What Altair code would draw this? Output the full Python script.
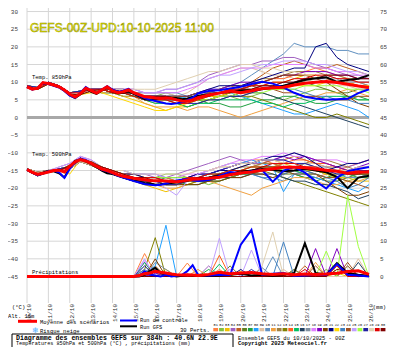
import altair as alt
import pandas as pd

# ---------------- time axes ----------------
H12 = list(range(0, 385, 12))                                   # perturbations
HB = list(range(0, 192, 6)) + list(range(192, 385, 12))          # bold runs
date_hours = [0, 24, 48, 72, 96, 120, 144, 168, 192, 216, 240, 264, 288, 312, 336, 360, 384]
date_labels = ["10/10", "11/10", "12/10", "13/10", "14/10", "15/10", "16/10", "17/10", "18/10",
               "19/10", "20/10", "21/10", "22/10", "23/10", "24/10", "25/10", "26/10"]
left_ticks = [30, 25, 20, 15, 10, 5, 0, -5, -10, -15, -20, -25, -30, -35, -40, -45]
right_ticks = [75, 70, 65, 60, 55, 50, 45, 40, 35, 30, 25, 20, 15, 10, 5, 0]

members = ["01", "02", "03", "04", "05", "06", "07", "08", "09", "10", "11", "12", "13", "14", "15",
           "16", "17", "18", "19", "20", "21", "22", "23", "24", "25", "26", "27", "28", "29", "30"]
member_colors = ["#ff8040", "#80c040", "#f0c000", "#a060c0", "#c06020", "#608020", "#20a040", "#20a0ff",
                 "#e0c0a0", "#6090c0", "#f0a040", "#a08040", "#808000", "#ff6020", "#00c060", "#204060",
                 "#8090a0", "#e080ff", "#8000c0", "#804000", "#000080", "#ffd700", "#4080c0", "#a05020",
                 "#c0a0ff", "#a0ff40", "#2020a0", "#e0d0b0", "#e00000", "#800000"]

# ---------------- bold runs (HB grid) ----------------
mean_t850 = [8.7, 8.0, 8.3, 9.9, 9.6, 9.2, 8.7, 7.8, 6.6, 5.8, 6.8, 8.3, 7.6, 6.9, 7.8, 8.7, 7.5, 7.0, 7.3, 7.8,
             7.0, 6.5, 5.9, 5.8, 5.5, 5.4, 5.6, 5.4, 5.0, 4.7, 4.6, 5.0,
             5.6, 6.4, 6.9, 7.5, 7.0, 7.6, 8.2, 8.4, 8.6, 9.2, 9.7, 10.0, 10.2, 9.9, 9.4, 8.9, 8.5]
ctrl_t850 = [8.7, 7.9, 8.4, 9.8, 9.5, 9.0, 8.5, 7.5, 6.2, 5.6, 7.0, 8.6, 7.6, 7.0, 7.9, 8.9, 7.9, 7.3, 7.6, 8.1,
             7.0, 6.2, 5.5, 5.0, 4.7, 4.3, 4.0, 3.8, 4.0, 4.4, 4.9, 5.6,
             6.8, 7.5, 7.7, 8.2, 8.7, 9.5, 10.1, 9.6, 8.5, 7.0, 5.9, 5.4, 5.0, 5.2, 5.3, 6.9, 8.0]
gfs_t850 = [8.7, 8.0, 8.4, 9.8, 9.5, 9.1, 8.6, 7.6, 6.3, 5.5, 6.6, 8.2, 7.3, 6.7, 7.6, 8.6, 7.4, 6.8, 7.0, 7.4,
            6.6, 6.0, 5.2, 5.0, 5.2, 5.5, 5.8, 5.6, 5.5, 5.2, 5.4, 5.8,
            6.2, 6.5, 7.0, 7.2, 7.6, 7.8, 8.0, 8.6, 9.0, 9.8, 10.6, 11.1, 11.4, 10.1, 10.6, 11.0, 12.0]
mean_t500 = [-14.7, -15.5, -16.1, -15.8, -15.4, -15.0, -14.9, -15.4, -13.8, -12.5, -11.9, -12.3, -13.0, -13.8,
             -14.6, -15.0, -15.6, -16.2, -16.6, -16.9, -17.2, -17.4, -17.6, -17.8, -17.9, -17.9, -18.0, -18.1,
             -18.2, -18.0, -17.7, -17.5,
             -17.4, -17.2, -16.9, -16.2, -15.7, -15.4, -14.9, -14.5, -14.1, -14.1, -14.2, -14.6, -14.9, -15.2,
             -15.8, -15.4, -15.4]
ctrl_t500 = [-14.7, -15.6, -16.3, -15.8, -15.2, -15.0, -15.5, -17.1, -14.5, -12.6, -11.6, -12.0, -12.9, -13.8,
             -14.8, -15.2, -15.8, -16.5, -17.0, -17.5, -18.0, -18.4, -18.8, -19.0, -19.2, -19.0, -18.7, -18.2,
             -17.8, -17.6, -17.4, -17.8,
             -18.0, -17.7, -16.5, -15.4, -15.8, -15.2, -14.9, -18.2, -15.0, -14.0, -15.6, -18.0, -20.1, -17.0,
             -15.2, -14.6, -14.0]
gfs_t500 = [-14.7, -15.6, -16.2, -15.6, -15.1, -15.2, -15.8, -17.0, -14.2, -12.3, -11.8, -12.4, -13.2, -14.0,
            -15.0, -15.8, -16.0, -16.5, -17.0, -17.4, -17.8, -18.2, -18.5, -18.7, -19.0, -18.9, -18.7, -18.5,
            -18.4, -18.1, -17.8, -17.5,
            -17.4, -17.0, -16.5, -16.0, -15.5, -15.0, -14.6, -14.8, -15.2, -15.0, -14.5, -15.0, -15.5, -16.8,
            -20.0, -17.0, -16.5]
mean_rr = [0, 0, 0, 0, 0, 0, 0, 0, 0, 0, 0, 0, 0, 0, 0, 0, 0, 0, 0, 0, 0,
           0.3, 0.8, 1.0, 1.5, 1.2, 1.0, 0.7, 0.5, 0.4, 0.5, 0.4,
           0.3, 0.6, 1.2, 0.8, 1.0, 1.1, 0.8, 0.6, 0.8, 0.5, 0.7, 0.6, 0.7, 0.9, 1.4, 1.6, 0.6]
ctrl_rr = [0, 0, 0, 0, 0, 0, 0, 0, 0, 0, 0, 0, 0, 0, 0, 0, 0, 0, 0, 0, 0,
           0.2, 1.5, 0.5, 0.3, 0, 0.5, 0, 0.2, 0.5, 1.5, 3.2,
           0.5, 0.3, 0.5, 0.4, 9.0, 13.2, 0.5, 0.8, 1.0, 0.2, 0.3, 0.5, 0.4, 3.5, 0.5, 0.3, 0]
gfs_rr = [0, 0, 0, 0, 0, 0, 0, 0, 0, 0, 0, 0, 0, 0, 0, 0, 0, 0, 0, 0, 0,
          0, 0.5, 1.5, 2.5, 1.0, 0.5, 0.3, 0, 0.2, 0.5, 0.3,
          0.5, 0.2, 0.3, 0.5, 0.8, 0.3, 0.5, 0.2, 0.4, 1.0, 9.4, 1.0, 0.5, 3.8, 1.0, 0.5, 0.2]

# ---------------- perturbations (H12 grid) ----------------
t850 = [
    [9, 8, 10, 9, 7, 7, 8, 8, 7, 7, 6, 5, 4, 5, 5, 5, 6, 7, 8, 9, 8, 9, 10, 11, 12, 12, 13, 14, 13, 12, 11, 10, 9],
    [8.5, 8, 9.5, 8.5, 6.5, 6.5, 7.5, 8, 8, 7, 7, 6, 6, 7, 6, 5, 5, 5, 6, 6, 5, 6, 7, 6, 5, 6, 7, 8, 8, 7, 6, 5, 5],
    [9, 8.5, 10, 9, 7, 7.5, 8, 7, 7, 6, 5, 4, 3, 2, 3, 3, 4, 5, 6, 7, 8, 8, 9, 10, 10, 11, 12, 12, 11, 10, 10, 9, 8],
    [8.5, 8.5, 9.5, 9, 6.5, 7, 7.5, 8, 8, 8, 8, 7, 7, 8, 8, 9, 10, 12, 13, 14, 15, 15, 16, 16, 17, 17, 16, 15, 14, 13, 12, 12, 11],
    [9, 8, 10, 9, 7, 7, 8, 8, 7, 7, 7, 6, 5, 5, 4, 4, 5, 5, 6, 7, 8, 10, 12, 14, 15, 16, 15, 14, 14, 15, 14, 13, 12],
    [8.5, 8, 9.5, 8.5, 6.5, 6.5, 7.5, 8, 8, 7, 6, 5, 5, 5, 4, 3, 4, 5, 5, 6, 6, 7, 8, 8, 9, 10, 10, 9, 8, 7, 7, 8, 8],
    [9, 8.5, 10, 9, 7, 7.5, 8, 7, 7, 6, 6, 5, 5, 6, 6, 5, 5, 4, 4, 3, 3, 4, 5, 5, 6, 6, 5, 4, 4, 5, 6, 6, 5],
    [8.5, 8.5, 9.5, 9, 6.5, 7, 7.5, 7, 7, 7, 6, 5, 5, 5, 5, 6, 6, 7, 7, 7, 6, 5, 4, 3, 2, 1, 1, 2, 3, 4, 3, 2, 0],
    [9, 8, 10, 9, 7, 7, 8, 8, 8, 8, 7, 7, 7, 7, 6, 7, 9, 11, 12, 13, 14, 14, 13, 12, 12, 11, 11, 10, 10, 9, 9, 8, 8],
    [8.5, 8, 9.5, 8.5, 6.5, 6.5, 7.5, 8, 8, 7, 7, 7, 7, 7, 7, 6, 7, 8, 8, 9, 10, 12, 14, 16, 18, 21, 20, 20, 20, 19, 19, 18, 18],
    [9, 8.5, 10, 9, 7, 7.5, 8, 7, 7, 6, 6, 4, 3, 3, 3, 2, 3, 3, 2, 1, 0, 1, 2, 3, 4, 5, 6, 6, 7, 7, 8, 7, 6],
    [8.5, 8.5, 9.5, 9, 6.5, 7, 7.5, 8, 8, 8, 7, 6, 6, 6, 5, 5, 6, 7, 8, 9, 9, 10, 11, 11, 12, 13, 13, 13, 12, 12, 11, 11, 11],
    [9, 8, 10, 9, 7, 7, 8, 8, 7, 7, 6, 6, 5, 5, 5, 4, 5, 5, 6, 6, 6, 6, 5, 4, 3, 2, 1, 0, 0, 1, 0, -1, -2],
    [8.5, 8, 9.5, 8.5, 6.5, 6.5, 7.5, 8, 8, 7, 7, 6, 6, 6, 5, 5, 6, 7, 7, 8, 9, 9, 10, 11, 11, 12, 12, 12, 11, 10, 10, 9, 9],
    [9, 8.5, 10, 9, 7, 7.5, 8, 8, 7, 7, 6, 5, 4, 4, 4, 3, 4, 4, 5, 5, 5, 5, 4, 4, 3, 4, 4, 5, 6, 6, 6, 5, 5],
    [8.5, 8.5, 9.5, 9, 6.5, 7, 7.5, 8, 7, 7, 7, 6, 6, 6, 5, 5, 5, 6, 6, 6, 7, 7, 7, 6, 5, 4, 3, 2, 1, 0, -1, -2, -3],
    [9, 8, 10, 9, 7, 7, 8, 8, 8, 7, 7, 6, 6, 5, 5, 5, 6, 6, 7, 8, 8, 9, 9, 9, 10, 10, 11, 11, 12, 11, 10, 10, 9],
    [8.5, 8, 9.5, 8.5, 6.5, 6.5, 7.5, 8, 8, 8, 8, 7, 7, 7, 7, 8, 9, 11, 12, 13, 14, 14, 14, 15, 15, 15, 15, 14, 14, 13, 13, 12, 12],
    [9, 8.5, 10, 9, 7, 7.5, 8, 8, 8, 7, 7, 6, 6, 6, 6, 6, 7, 8, 8, 9, 10, 10, 10, 11, 12, 12, 13, 13, 13, 12, 12, 11, 11],
    [8.5, 8.5, 9.5, 9, 6.5, 7, 7.5, 8, 7, 7, 7, 6, 6, 6, 5, 5, 6, 6, 6, 7, 8, 9, 10, 11, 12, 12, 12, 11, 10, 8, 6, 4, 3],
    [9, 8, 10, 9, 7, 7, 8, 8, 8, 8, 7, 6, 6, 6, 6, 6, 7, 8, 9, 9, 9, 10, 11, 12, 13, 14, 14, 20, 21, 17, 15, 14, 13],
    [8.5, 8, 9.5, 8.5, 6.5, 6.5, 7, 7, 6, 5, 4, 3, 2, 2, 3, 4, 5, 6, 6, 7, 7, 8, 8, 8, 8, 9, 9, 9, 10, 10, 10, 9, 9],
    [9, 8.5, 10, 9, 7, 7.5, 8, 8, 8, 7, 7, 6, 6, 6, 6, 5, 6, 7, 7, 8, 8, 8, 9, 9, 8, 8, 7, 6, 6, 5, 5, 4, 4],
    [8.5, 8.5, 9.5, 9, 6.5, 7, 7.5, 8, 8, 7, 7, 6, 6, 6, 6, 6, 7, 7, 8, 8, 9, 9, 8, 8, 7, 7, 6, 6, 5, 5, 5, 6, 6],
    [9, 8, 10, 9, 7, 7, 8, 8, 8, 8, 8, 7, 7, 8, 8, 9, 10, 11, 12, 12, 13, 14, 15, 15, 16, 16, 16, 15, 15, 14, 13, 13, 12],
    [8.5, 8, 9.5, 8.5, 6.5, 6.5, 7.5, 8, 8, 7, 7, 6, 5, 5, 5, 4, 5, 5, 6, 6, 7, 7, 7, 8, 8, 8, 9, 9, 9, 9, 8, 8, 7],
    [9, 8.5, 10, 9, 7, 7.5, 8, 8, 8, 7, 7, 6, 6, 5, 5, 4, 4, 5, 5, 6, 6, 7, 8, 9, 9, 10, 11, 11, 11, 11, 10, 10, 10],
    [8.5, 8.5, 9.5, 9, 6.5, 7, 7.5, 8, 8, 8, 8, 8, 8, 9, 10, 11, 12, 13, 13, 14, 15, 15, 14, 14, 13, 13, 12, 12, 11, 11, 10, 10, 10],
    [9, 8, 10, 9, 7, 7, 8, 8, 7, 7, 6, 5, 5, 5, 4, 4, 5, 6, 7, 8, 8, 9, 9, 10, 10, 11, 11, 12, 12, 11, 11, 10, 10],
    [8.5, 8, 9.5, 8.5, 6.5, 6.5, 7.5, 8, 8, 7, 7, 6, 6, 6, 5, 5, 6, 6, 7, 7, 8, 8, 9, 9, 10, 10, 11, 11, 12, 12, 12, 11, 11],
]
t500 = [
    [-15, -16, -15, -15, -14, -12, -13, -15, -16, -17, -18, -18, -19, -19, -18, -17, -16, -15, -14, -13, -13, -12, -12, -13, -14, -15, -16, -17, -16, -15, -14, -13, -12],
    [-14.5, -16, -15.5, -15, -13.5, -12, -12.5, -14, -15, -16, -16, -17, -17, -16, -16, -17, -18, -19, -18, -17, -16, -16, -15, -14, -13, -13, -14, -15, -16, -17, -18, -17, -16],
    [-15, -16.5, -15.5, -14.5, -14, -11.5, -13, -15, -16, -17, -18, -19, -20, -21, -20, -19, -18, -17, -16, -15, -14, -13, -12, -12, -13, -14, -14, -15, -16, -17, -17, -18, -18],
    [-14.5, -15.5, -15, -15, -14.5, -12.5, -13.5, -14, -15, -16, -16, -16, -17, -17, -16, -15, -14, -13, -12, -11, -12, -13, -13, -12, -11, -10, -11, -12, -13, -14, -14, -13, -12],
    [-15, -16, -15, -15, -14, -12, -13, -15, -16, -17, -17, -18, -18, -19, -19, -18, -18, -17, -16, -16, -15, -14, -13, -12, -12, -11, -12, -13, -14, -14, -15, -16, -15],
    [-14.5, -16, -15.5, -15, -13.5, -12, -12.5, -14, -15, -16, -17, -17, -17, -18, -18, -18, -17, -17, -16, -15, -15, -14, -14, -15, -16, -16, -17, -17, -18, -18, -17, -16, -16],
    [-15, -16.5, -15.5, -14.5, -14, -11.5, -13, -14, -15, -16, -17, -17, -18, -17, -18, -19, -19, -18, -18, -17, -16, -15, -15, -14, -15, -16, -17, -18, -17, -16, -16, -17, -17],
    [-14.5, -15.5, -15, -15, -14.5, -12.5, -13.5, -14, -15, -15, -16, -16, -16, -17, -17, -17, -17, -16, -15, -14, -13, -12, -13, -14, -21, -16, -16, -17, -18, -19, -20, -21, -19],
    [-15, -16, -15, -14, -13, -11, -12, -14, -15, -16, -16, -17, -17, -17, -17, -16, -15, -15, -14, -14, -13, -13, -14, -15, -15, -14, -13, -13, -14, -15, -15, -14, -14],
    [-14.5, -16, -15.5, -15, -13.5, -12, -12.5, -15, -16, -17, -18, -18, -19, -19, -19, -18, -18, -18, -17, -17, -16, -16, -17, -17, -18, -16, -15, -15, -16, -16, -17, -17, -16],
    [-15, -16.5, -15.5, -14.5, -14, -11.5, -13, -15, -16, -17, -18, -19, -19, -20, -20, -19, -18, -18, -19, -20, -21, -22, -20, -19, -18, -17, -17, -18, -19, -19, -18, -18, -17],
    [-14.5, -15.5, -15, -15, -14.5, -12.5, -13.5, -14, -15, -16, -17, -17, -18, -18, -18, -17, -17, -16, -16, -15, -14, -14, -13, -13, -14, -14, -13, -12, -12, -13, -14, -15, -15],
    [-15, -16, -15, -15, -14, -12, -13, -15, -16, -17, -18, -18, -18, -19, -19, -19, -18, -18, -17, -17, -16, -15, -15, -16, -17, -18, -19, -20, -21, -22, -23, -24, -25],
    [-14.5, -16, -15.5, -15, -13.5, -12, -12.5, -14, -15, -16, -16, -17, -17, -17, -18, -18, -17, -17, -17, -16, -16, -15, -14, -14, -13, -12, -12, -13, -13, -14, -15, -15, -15],
    [-15, -16.5, -15.5, -14.5, -14, -11.5, -13, -15, -16, -17, -17, -18, -18, -18, -18, -18, -18, -17, -17, -16, -16, -16, -15, -15, -15, -15, -16, -16, -17, -17, -16, -16, -16],
    [-14.5, -15.5, -15, -15, -14.5, -12.5, -13.5, -15, -16, -17, -18, -19, -19, -19, -19, -18, -18, -18, -17, -17, -17, -16, -16, -16, -17, -18, -18, -19, -19, -20, -21, -23, -22],
    [-15, -16, -15, -15, -14, -12, -13, -14, -15, -16, -17, -17, -18, -18, -18, -17, -17, -17, -16, -16, -15, -15, -14, -14, -14, -14, -13, -14, -14, -15, -16, -16, -15],
    [-14.5, -16, -15.5, -14, -13, -11, -12, -14, -15, -15, -16, -16, -16, -17, -17, -16, -16, -15, -14, -13, -12, -12, -11, -11, -10, -11, -11, -12, -12, -12, -13, -13, -12],
    [-15, -16.5, -15.5, -14.5, -14, -11.5, -13, -14, -15, -16, -17, -17, -17, -18, -18, -17, -16, -16, -15, -14, -13, -13, -12, -12, -11, -12, -11, -12, -13, -14, -15, -14, -13],
    [-14.5, -15.5, -15, -15, -14.5, -12.5, -13.5, -15, -16, -17, -18, -18, -19, -19, -19, -19, -19, -18, -18, -17, -17, -16, -16, -17, -16, -15, -15, -16, -18, -20, -22, -22, -21],
    [-15, -16, -15, -15, -14, -12, -13, -14, -15, -16, -16, -17, -17, -17, -17, -17, -16, -16, -15, -15, -14, -13, -12, -11, -11, -10, -11, -13, -15, -14, -13, -13, -12],
    [-14.5, -16, -15.5, -15, -16, -12, -12.5, -14, -15, -16, -17, -17, -18, -18, -19, -18, -18, -17, -17, -16, -16, -15, -15, -14, -14, -14, -15, -15, -16, -16, -16, -15, -15],
    [-15, -16.5, -15.5, -14.5, -14, -11.5, -13, -14, -15, -16, -17, -18, -18, -18, -18, -17, -17, -16, -16, -15, -15, -16, -17, -18, -16, -15, -15, -16, -17, -18, -20, -19, -17],
    [-14.5, -15.5, -15, -15, -14.5, -12.5, -13.5, -15, -16, -17, -18, -18, -19, -19, -19, -18, -18, -17, -17, -16, -16, -15, -15, -15, -15, -16, -16, -16, -17, -17, -18, -19, -20],
    [-15, -16, -15, -14, -13, -11, -12, -14, -15, -16, -17, -17, -18, -20, -22, -18, -16, -15, -14, -13, -13, -13, -12, -12, -12, -13, -14, -14, -15, -16, -16, -15, -15],
    [-14.5, -16, -15.5, -15, -13.5, -12, -12.5, -14, -15, -16, -17, -17, -17, -17, -17, -17, -17, -16, -16, -15, -15, -14, -14, -14, -15, -15, -14, -14, -15, -15, -16, -16, -16],
    [-15, -16.5, -15.5, -14.5, -14, -11.5, -13, -15, -16, -17, -18, -18, -18, -19, -19, -18, -17, -16, -15, -14, -13, -13, -12, -12, -12, -13, -13, -14, -15, -16, -16, -15, -15],
    [-14.5, -15.5, -15, -15, -14.5, -12.5, -13.5, -14, -15, -15, -16, -16, -16, -16, -16, -16, -15, -15, -14, -14, -13, -13, -12, -12, -13, -13, -14, -14, -15, -15, -15, -14, -14],
    [-15, -16, -15, -15, -14, -12, -13, -14, -15, -16, -17, -17, -17, -18, -18, -17, -17, -16, -16, -15, -15, -14, -14, -13, -13, -13, -14, -14, -15, -15, -16, -16, -15],
    [-14.5, -16, -15.5, -15, -13.5, -12, -12.5, -14, -15, -16, -17, -17, -18, -18, -18, -18, -17, -17, -16, -16, -15, -15, -14, -14, -14, -14, -14, -15, -15, -15, -16, -16, -16],
]
rr = [
    [0, 0, 0, 0, 0, 0, 0, 0, 0, 0, 0, 6.5, 1, 0, 0, 3.8, 0, 0, 2, 0, 0, 0, 0, 0, 0, 0, 0.5, 0, 0, 0, 0, 0, 0],
    [0, 0, 0, 0, 0, 0, 0, 0, 0, 0, 0, 1, 0, 0, 0, 0, 0, 0, 0, 0, 0, 0, 0, 0, 0, 0, 0, 0, 2, 0, 0, 0, 0],
    [0, 0, 0, 0, 0, 0, 0, 0, 0, 0, 0, 0, 0, 2, 0, 0, 0, 0, 0, 0, 0, 0, 0, 0, 0, 0, 0, 0, 0, 1, 0, 0, 0],
    [0, 0, 0, 0, 0, 0, 0, 0, 0, 0, 0, 4, 0, 0, 0, 0, 0, 3, 0, 0, 0, 0, 0, 0, 0, 0, 0, 0, 0, 0, 0, 0, 0],
    [0, 0, 0, 0, 0, 0, 0, 0, 0, 0, 0, 0, 3, 0, 0, 0, 0, 0, 0, 0, 0, 0, 0, 0, 0, 0, 3, 0, 0, 0, 0, 0, 0],
    [0, 0, 0, 0, 0, 0, 0, 0, 0, 0, 0, 0.5, 0, 0, 0, 0, 0, 0, 0, 3, 0, 0, 0, 0, 0, 0, 0, 0, 0, 0, 0, 0, 0],
    [0, 0, 0, 0, 0, 0, 0, 0, 0, 0, 0, 0, 0, 0, 0, 0, 0, 2, 0, 0, 0, 0, 0, 0, 0, 2, 0, 0, 0, 0, 0, 0, 0],
    [0, 0, 0, 0, 0, 0, 0, 0, 0, 0, 0, 1, 3, 14.5, 0, 0, 0, 0, 0, 0, 0, 0, 0, 0, 0, 0, 0, 0, 0, 0, 0, 0, 0],
    [0, 0, 0, 0, 0, 0, 0, 0, 0, 0, 0, 0, 0, 0, 0, 0, 0, 0, 0, 0, 0, 0, 0, 0, 2, 0, 0, 0, 0, 0, 0, 5, 0],
    [0, 0, 0, 0, 0, 0, 0, 0, 0, 0, 0, 0, 1, 0, 0, 0, 0, 0, 0, 0, 0, 0, 0, 5.6, 0, 0, 0, 0, 0, 0, 0, 0, 0],
    [0, 0, 0, 0, 0, 0, 0, 0, 0, 0, 0, 0, 0, 0, 0, 0, 2, 0, 0, 0, 0, 0, 0, 0, 0, 0, 0, 4, 0, 0, 0, 0, 0],
    [0, 0, 0, 0, 0, 0, 0, 0, 0, 0, 0, 0, 0, 1, 0, 0, 0, 0, 0, 0, 0, 0, 0, 0, 0, 2, 0, 0, 0, 0, 0, 0, 0],
    [0, 0, 0, 0, 0, 0, 0, 0, 0, 0, 0, 2, 11, 0, 0, 0, 0, 0, 0, 0, 0, 0, 0, 0, 0, 0, 0, 0, 0, 0, 0, 0, 0],
    [0, 0, 0, 0, 0, 0, 0, 0, 0, 0, 0, 1, 0, 0, 0, 0, 0, 0, 6, 0, 0, 0, 0, 0, 0, 0, 0, 0, 0, 0, 0, 0, 0],
    [0, 0, 0, 0, 0, 0, 0, 0, 0, 0, 0, 4, 0, 0, 0, 0, 0, 0, 3.5, 0, 0, 0, 0, 0, 0, 0, 0, 0, 0, 0, 0, 0, 0],
    [0, 0, 0, 0, 0, 0, 0, 0, 0, 0, 0, 0, 2, 0, 0, 0, 0, 0, 0, 0, 0, 0, 0, 0, 0, 0, 0, 0, 0, 0, 0, 4, 0],
    [0, 0, 0, 0, 0, 0, 0, 0, 0, 0, 0, 0, 4, 2, 0, 0, 0, 0, 0, 0, 0, 0, 2.5, 0, 0, 0, 0, 0, 0, 0, 0, 0, 0],
    [0, 0, 0, 0, 0, 0, 0, 0, 0, 0, 0, 4.5, 0, 0, 0, 0, 0, 0, 0, 2, 0, 0, 0, 0, 0, 0, 0, 0, 0, 0, 0, 0, 0],
    [0, 0, 0, 0, 0, 0, 0, 0, 0, 0, 0, 0, 1, 0, 0, 0, 0, 0, 0, 0, 0, 0, 0, 0, 0, 0, 0, 7.9, 0, 7.9, 0, 0, 0],
    [0, 0, 0, 0, 0, 0, 0, 0, 0, 0, 0, 0, 5, 0, 0, 0, 0, 0, 0, 0, 0, 0, 0, 0, 0, 0, 0, 0, 0, 0, 3, 0, 0],
    [0, 0, 0, 0, 0, 0, 0, 0, 0, 0, 0, 3, 0, 0, 0, 0, 0, 0, 0, 0, 2, 0, 0, 0, 0, 0, 0, 0, 0, 0, 0, 0, 0],
    [0, 0, 0, 0, 0, 0, 0, 0, 0, 0, 0, 0, 0, 0.5, 0, 0, 0, 0, 0, 0, 1.5, 0, 0, 0, 0, 0, 0, 0, 0, 0, 0, 0, 0],
    [0, 0, 0, 0, 0, 0, 0, 0, 0, 0, 0, 2, 0, 0, 0, 0, 0, 0, 0, 0, 0, 0, 0, 0, 9.8, 0, 0, 0, 0, 0, 0, 0, 0],
    [0, 0, 0, 0, 0, 0, 0, 0, 0, 0, 0, 0, 0, 0, 0, 0, 0, 0, 0, 0, 0, 0, 0, 0, 0, 0, 0, 3, 0, 0, 4, 0, 0],
    [0, 0, 0, 0, 0, 0, 0, 0, 0, 0, 0, 5, 0, 0, 0, 0, 0, 0, 10.8, 0, 0, 7.5, 0, 0, 0, 0, 0, 0, 0, 0, 0, 0, 0],
    [0, 0, 0, 0, 0, 0, 0, 0, 0, 0, 0, 0, 0, 0, 0, 0, 0, 0, 0, 0, 0, 0, 0, 0, 0, 0, 0, 0, 7.2, 0, 23, 8.5, 0],
    [0, 0, 0, 0, 0, 0, 0, 0, 0, 0, 0, 0, 0, 0, 0, 0, 0, 0, 0, 0, 0, 2, 0, 0, 1, 0, 0, 0, 0, 0, 0, 0, 0],
    [0, 0, 0, 0, 0, 0, 0, 0, 0, 0, 0, 0, 0, 0, 0, 0, 0, 0, 0, 0, 0, 0, 3, 12.6, 0, 0, 0, 0, 0, 0, 0, 0, 0],
    [0, 0, 0, 0, 0, 0, 0, 0, 0, 0, 0, 0, 0, 0, 0, 0, 0, 0, 0, 0, 0, 0, 0, 0, 0, 0, 2, 0, 0, 3, 0, 0, 0],
    [0, 0, 0, 0, 0, 0, 0, 0, 0, 0, 0, 0, 0, 0, 0, 0, 0, 0, 0, 0, 0, 0, 0, 0, 0, 0, 0, 0, 0, 2, 1.5, 0, 0],
]

# ---------------- build tables ----------------
rows = []
for i, m in enumerate(members):
    for var, arr in (("850", t850[i]), ("500", t500[i]), ("rr", rr[i])):
        assert len(arr) == len(H12), (m, var, len(arr))
        for h, v in zip(H12, arr):
            rows.append({"member": m, "key": m + var, "var": var, "h": h, "v": v})
pert_df = pd.DataFrame(rows)


def bold_df(a850, a500, arr):
    out = []
    for var, arr_ in (("850", a850), ("500", a500), ("rr", arr)):
        assert len(arr_) == len(HB), (var, len(arr_))
        for h, v in zip(HB, arr_):
            out.append({"var": var, "h": h, "v": v})
    return pd.DataFrame(out)


ycalc = "datum.var == 'rr' ? datum.v - 45 : datum.v"

W, H = 342, 295
xs = alt.Scale(domain=[0, 384], nice=False, zero=False)
ys = alt.Scale(domain=[-52.5, 31], nice=False, zero=False)
X = alt.X("h:Q", scale=xs, axis=None)
Y = alt.Y("y:Q", scale=ys, axis=None)
FONT = "Liberation Mono"

vgrid = alt.Chart(pd.DataFrame({"h": date_hours})).mark_rule(color="#d6d6d6", strokeWidth=1).encode(
    x=X, y=alt.value(0), y2=alt.value(H))
hgrid = alt.Chart(pd.DataFrame({"y": left_ticks})).mark_rule(color="#d6d6d6", strokeWidth=1).encode(
    y=Y, x=alt.value(0), x2=alt.value(W))
zline = alt.Chart(pd.DataFrame({"y": [0]})).mark_rule(color="#a8a8a8", strokeWidth=3).encode(
    y=Y, x=alt.value(0), x2=alt.value(W))

color_scale = alt.Scale(domain=members, range=member_colors)
perts = alt.Chart(pert_df).transform_calculate(y=ycalc).mark_line(strokeWidth=1).encode(
    x=X, y=Y, detail="key:N", color=alt.Color("member:N", scale=color_scale, legend=None))


def bold(df, color, width):
    return alt.Chart(df).transform_calculate(y=ycalc).mark_line(color=color, strokeWidth=width).encode(
        x=X, y=Y, detail="var:N")


gfs_l = bold(bold_df(gfs_t850, gfs_t500, gfs_rr), "#000000", 2)
ctrl_l = bold(bold_df(ctrl_t850, ctrl_t500, ctrl_rr), "#0000ff", 2)
mean_l = bold(bold_df(mean_t850, mean_t500, mean_rr), "#ff0000", 3)

left_lab = alt.Chart(pd.DataFrame({"y": left_ticks})).mark_text(
    align="right", baseline="middle", font=FONT, fontSize=6, color="#404040").encode(
    y=Y, x=alt.value(-9), text=alt.Text("y:Q"))
right_lab = alt.Chart(pd.DataFrame({"r": right_ticks})).transform_calculate(y="datum.r - 45").mark_text(
    align="left", baseline="middle", font=FONT, fontSize=6, color="#404040").encode(
    y=Y, x=alt.value(353), text=alt.Text("r:Q"))
x_lab = alt.Chart(pd.DataFrame({"h": date_hours, "d": date_labels})).mark_text(
    align="right", baseline="middle", angle=270, dy=2, font=FONT, fontSize=6, color="#303030").encode(
    x=X, y=alt.value(H + 1), text="d:N")


def txt(s, x, y, size=5.5, align="left", weight="normal", color="#000000", font=FONT, **kw):
    return alt.Chart(pd.DataFrame({"t": [s]})).mark_text(
        align=align, baseline="middle", fontSize=size, fontWeight=weight, color=color, font=font, **kw).encode(
        x=alt.value(x), y=alt.value(y), text="t:N")


title = alt.Chart(pd.DataFrame({"t": ["GEFS-00Z-UPD:10-10-2025  11:00"]})).mark_text(
    align="left", baseline="alphabetic", font="Liberation Sans", fontSize=12, fill="#ffff00",
    stroke="#8a8a00", strokeWidth=0.5).encode(x=alt.value(3), y=alt.value(23.5), text="t:N")

labels = [
    txt("Temp. 850hPa", 5, 69),
    txt("Temp. 500hPa", 5, 146),
    txt("Précipitations", 5, 264),
    txt("(°C)", -15, 299),
    txt("Alt. 16m", -19, 308),
    txt("(mm)", 359, 299, align="right"),
    txt("Moyenne des scénarios", 13, 313.5),
    txt("Risque neige", 13, 322.5),
    txt("❄", 5, 322.5, size=8, color="#50b0ff", font="DejaVu Sans"),
    txt("Run de contrôle", 113, 312.3, size=5.3),
    txt("Run GFS", 113, 318.6, size=5.3),
    txt("30 Perts.", 153, 322),
    txt("Diagramme des ensembles GEFS sur 384h : 40.6N 22.9E", -11, 330, size=6.6, weight="bold"),
    txt("Températures 850hPa et 500hPa (°C) , précipitations (mm)", -11, 335.3, size=5.2),
    txt("Ensemble GEFS du 10/10/2025 - 00Z", 211, 329.5, size=5.4),
    txt("Copyright 2025 Meteociel.fr", 211, 335.3, size=5.5, weight="bold"),
]

leg_red = alt.Chart(pd.DataFrame({"a": [0]})).mark_rule(color="#ff0000", strokeWidth=3).encode(
    x=alt.value(-9), x2=alt.value(10), y=alt.value(313.3))
leg_blue = alt.Chart(pd.DataFrame({"a": [0]})).mark_rule(color="#0000ff", strokeWidth=2).encode(
    x=alt.value(93), x2=alt.value(110), y=alt.value(312.5))
leg_black = alt.Chart(pd.DataFrame({"a": [0]})).mark_rule(color="#000000", strokeWidth=2).encode(
    x=alt.value(93), x2=alt.value(110), y=alt.value(318.3))
box = alt.Chart(pd.DataFrame({"a": [0]})).mark_rect(fill=None, stroke="#000000", strokeWidth=1).encode(
    x=alt.value(-15), x2=alt.value(206), y=alt.value(326), y2=alt.value(345))

mem_df = pd.DataFrame({"member": members, "i": list(range(len(members)))})
boxes = alt.Chart(mem_df).transform_calculate(
    h="(186.3 + datum.i * 5.77) * 384 / 342", h2="(191.1 + datum.i * 5.77) * 384 / 342").mark_rect().encode(
    x=X, x2="h2:Q", y=alt.value(320), y2=alt.value(323.3),
    color=alt.Color("member:N", scale=color_scale, legend=None))
box_lab = alt.Chart(mem_df).transform_calculate(h="(188.7 + datum.i * 5.77) * 384 / 342").mark_text(
    fontSize=3.6, font=FONT, baseline="middle", align="center", color="#000000").encode(
    x=X, y=alt.value(316.7), text="member:N")

chart = alt.layer(
    vgrid, hgrid, zline, perts, gfs_l, ctrl_l, mean_l, left_lab, right_lab, x_lab, title,
    leg_red, leg_blue, leg_black, box, boxes, box_lab, *labels
).properties(
    width=W, height=H, autosize="none",
    padding={"left": 19, "top": 0, "right": 18, "bottom": 44},
    background="#ffffff",
).configure_view(stroke=None)

chart.save("out.html", embed_options={"renderer": "svg", "actions": False})
